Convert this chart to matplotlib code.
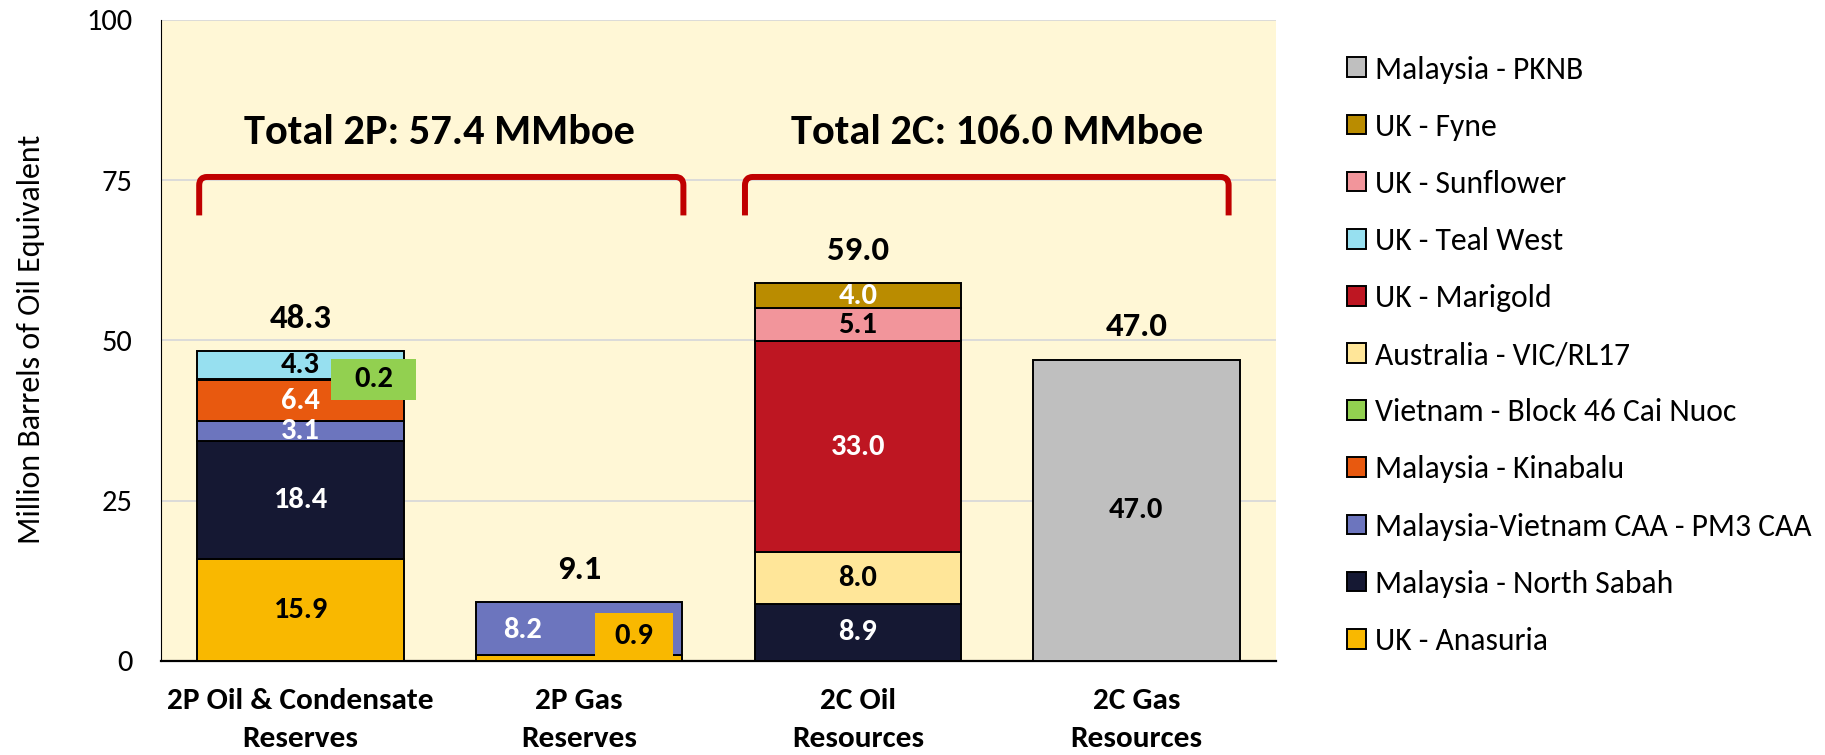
import matplotlib
matplotlib.use("Agg")
import matplotlib.pyplot as plt
from matplotlib.patches import Rectangle, Patch, PathPatch
from matplotlib.path import Path
from matplotlib import font_manager as fm

# ---------------- data ----------------
categories = ["2P Oil & Condensate\nReserves", "2P Gas\nReserves",
              "2C Oil\nResources", "2C Gas\nResources"]
series_names = ["UK - Anasuria", "Malaysia - North Sabah",
                "Malaysia-Vietnam CAA - PM3 CAA", "Malaysia - Kinabalu",
                "Vietnam - Block 46 Cai Nuoc", "Australia - VIC/RL17",
                "UK - Marigold", "UK - Teal West", "UK - Sunflower",
                "UK - Fyne", "Malaysia - PKNB"]
anasuria = [15.9, 0.9, 0.0, 0.0]
north_sabah = [18.4, 0.0, 8.9, 0.0]
pm3_caa = [3.1, 8.2, 0.0, 0.0]
kinabalu = [6.4, 0.0, 0.0, 0.0]
block46 = [0.2, 0.0, 0.0, 0.0]
vic_rl17 = [0.0, 0.0, 8.0, 0.0]
marigold = [0.0, 0.0, 33.0, 0.0]
teal_west = [4.3, 0.0, 0.0, 0.0]
sunflower = [0.0, 0.0, 5.1, 0.0]
fyne = [0.0, 0.0, 4.0, 0.0]
pknb = [0.0, 0.0, 0.0, 47.0]
series_values = [anasuria, north_sabah, pm3_caa, kinabalu, block46, vic_rl17,
                 marigold, teal_west, sunflower, fyne, pknb]
yticks = [0, 25, 50, 75, 100]
group_titles = ["Total 2P", "Total 2C"]

# ---------------- style / layout ----------------
colors = ["#F9B800", "#151833", "#6C75BE", "#E8590F", "#92D050", "#FFE699",
          "#BE1622", "#97E0F0", "#F2959B", "#BA8C00", "#BFBFBF"]
label_colors = {"UK - Anasuria": "black", "Malaysia - North Sabah": "white",
                "Malaysia-Vietnam CAA - PM3 CAA": "white", "Malaysia - Kinabalu": "white",
                "Vietnam - Block 46 Cai Nuoc": "black", "Australia - VIC/RL17": "black",
                "UK - Marigold": "white", "UK - Teal West": "black",
                "UK - Sunflower": "black", "UK - Fyne": "white", "Malaysia - PKNB": "black"}
bar_width = 0.741

avail = {f.name for f in fm.fontManager.ttflist}
calib = [f for f in ["Carlito", "Lato", "Liberation Sans Narrow", "Liberation Sans"] if f in avail][0]

BG = "#FFF7D6"
W, H = 1825, 755
fig = plt.figure(figsize=(W / 100, H / 100), dpi=100)
ax = fig.add_axes([161.3 / W, 1 - 660.7 / H, 1114.4 / W, 640.7 / H])
ax.set_facecolor(BG)
ax.set_xlim(-0.5, len(categories) - 0.5)
ax.set_ylim(0, 100)
ax.set_yticks(yticks)
ax.grid(axis="y", color="#D9D9D9", lw=1.3)
ax.set_axisbelow(True)
for s in ["top", "right"]:
    ax.spines[s].set_visible(False)
ax.spines["left"].set_color("black")
ax.spines["left"].set_linewidth(0.8)
ax.spines["bottom"].set_color("black")
ax.spines["bottom"].set_linewidth(1.6)
ax.tick_params(axis="both", length=0)
ax.tick_params(axis="y", pad=21)
ax.tick_params(axis="x", pad=20)
for t in ax.get_yticklabels():
    t.set_fontfamily(calib)
    t.set_fontsize(22)
positions = list(range(len(categories)))
ax.set_xticks(positions)
ax.set_xticklabels(categories, fontfamily=calib, fontweight="bold", fontsize=22.5,
                   linespacing=1.56)

# stacked bars
bottoms = [0.0] * len(categories)
segments = []
for name, vals, col in zip(series_names, series_values, colors):
    idx = [i for i, v in enumerate(vals) if v > 0]
    ax.bar([positions[i] for i in idx], [vals[i] for i in idx], width=bar_width,
           bottom=[bottoms[i] for i in idx], color=col, edgecolor="black", lw=1.4, zorder=3)
    for i in idx:
        segments.append((name, i, bottoms[i], vals[i]))
        bottoms[i] += vals[i]

inner_font = dict(fontfamily=calib, fontweight="bold", fontsize=22, ha="center", va="center", zorder=6)
total_font = dict(fontfamily=calib, fontweight="bold", fontsize=25, ha="center", va="center", zorder=6)

# callout boxes for small segments: (dx from bar centre, box width, box height, dy of box centre)
callouts = {("Vietnam - Block 46 Cai Nuoc", 0): (0.262, 0.305, 6.4, 0.0),
            ("UK - Anasuria", 1): (0.196, 0.279, 7.1, 3.4)}
offsets = {("Malaysia-Vietnam CAA - PM3 CAA", 1): (-0.205, -0.2)}

for name, i, b, v in segments:
    cx = positions[i]
    cy = b + v / 2
    col = colors[series_names.index(name)]
    if (name, i) in callouts:
        dx, bw, bh, dy = callouts[(name, i)]
        bx, by = cx + dx, cy + dy
        ax.add_patch(Rectangle((bx - bw / 2, by - bh / 2), bw, bh, facecolor=col,
                               edgecolor="none", zorder=5))
        ax.text(bx, by, f"{v:.1f}", color=label_colors[name], **inner_font)
    else:
        dx, dy = offsets.get((name, i), (0.0, 0.0))
        ax.text(cx + dx, cy + dy, f"{v:.1f}", color=label_colors[name], **inner_font)

# totals above bars
for i, tot in enumerate(bottoms):
    ax.text(positions[i], tot + 5.1, f"{tot:.1f}", color="black", **total_font)

# brackets + group titles
groups = [(0, 1), (2, 3)]
bracket_x = [(-0.364, 1.374), (1.595, 3.331)]
y_bot, y_top, ry, rx = 69.5, 75.5, 1.3, 0.028
for (a, b), (x0, x1), title in zip(groups, bracket_x, group_titles):
    verts = [(x0, y_bot), (x0, y_top - ry), (x0, y_top), (x0 + rx, y_top),
             (x1 - rx, y_top), (x1, y_top), (x1, y_top - ry), (x1, y_bot)]
    codes = [Path.MOVETO, Path.LINETO, Path.CURVE3, Path.CURVE3,
             Path.LINETO, Path.CURVE3, Path.CURVE3, Path.LINETO]
    ax.add_patch(PathPatch(Path(verts, codes), facecolor="none", edgecolor="#C00000",
                           lw=4.3, capstyle="butt", joinstyle="round", zorder=4))
    total = bottoms[a] + bottoms[b]
    ax.text((positions[a] + positions[b]) / 2, 82.45, f"{title}: {total:.1f} MMboe",
            fontfamily=calib, fontweight="bold", fontsize=30.5, ha="center", va="center", zorder=6)

# y label
fig.text(31.5 / W, 1 - 339 / H, "Million Barrels of Oil Equivalent", rotation=90,
         ha="center", va="center", fontfamily=calib, fontsize=23)

# legend (reverse order)
handles = [Patch(facecolor=c, edgecolor="black", lw=1.4) for c in colors][::-1]
fig.legend(handles, series_names[::-1], loc="upper left",
           bbox_to_anchor=(1347.3 / W, 1 - 55.5 / H), frameon=False,
           prop=dict(family=calib, size=22.8), handlelength=0.6, handleheight=0.58,
           handletextpad=0.27, labelspacing=0.92, borderpad=0, borderaxespad=0)

fig.savefig("out.png", dpi=100, facecolor="white")
